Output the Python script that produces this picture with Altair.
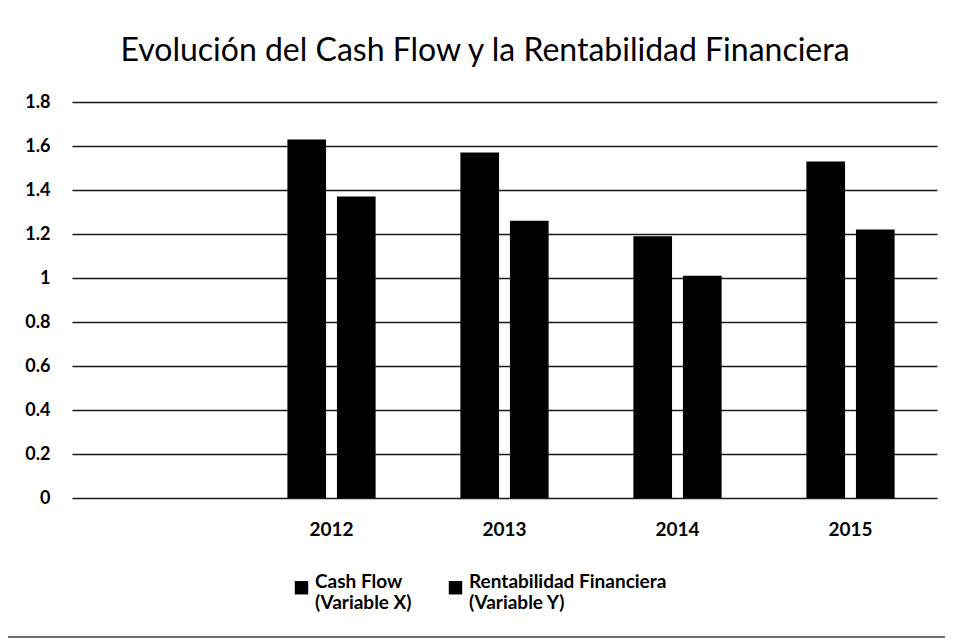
import altair as alt
import pandas as pd

title_text = ["Evolución del Cash Flow y la Rentabilidad Financiera"]
categories = ["", "2012", "2013", "2014", "2015"]
years = ["2012", "2013", "2014", "2015"]
cash_flow = [1.63, 1.57, 1.19, 1.53]
rentabilidad = [1.37, 1.26, 1.01, 1.22]
series = ["Cash Flow|(Variable X)", "Rentabilidad Financiera|(Variable Y)"]
y_ticks = [0, 0.2, 0.4, 0.6, 0.8, 1, 1.2, 1.4, 1.6, 1.8]

rows = []
for i, yr in enumerate(years):
    rows.append({"year": yr, "serie": series[0], "value": cash_flow[i]})
    rows.append({"year": yr, "serie": series[1], "value": rentabilidad[i]})
df = pd.DataFrame(rows)

FONT = "Lato"

bars = alt.Chart(df).mark_bar(color="black").encode(
    x=alt.X("year:N", sort=categories,
            scale=alt.Scale(domain=categories, paddingInner=0.49, paddingOuter=0.245),
            axis=alt.Axis(title=None, labelAngle=0, labelFontSize=19, labelFont=FONT,
                          labelFontWeight="bold", labelColor="black", labelPadding=22,
                          ticks=False, domain=False, grid=False)),
    xOffset=alt.XOffset("serie:N", sort=series, scale=alt.Scale(paddingInner=0.22)),
    y=alt.Y("value:Q", scale=alt.Scale(domain=[0, 1.8], nice=False),
            axis=alt.Axis(title=None, values=y_ticks, format="~g", labelFontSize=18,
                          labelFont=FONT, labelFontWeight="bold", labelColor="black",
                          labelPadding=22, ticks=False, domain=False, grid=True,
                          gridColor="black", gridWidth=1.6, gridOpacity=0.9)),
    color=alt.Color("serie:N", sort=series,
                    scale=alt.Scale(domain=series, range=["black", "black"]),
                    legend=alt.Legend(title=None, orient="none", legendX=220, legendY=476,
                                      direction="horizontal", symbolType="square",
                                      symbolSize=180, symbolStrokeWidth=0,
                                      labelFont=FONT, labelFontSize=19, labelFontWeight="bold",
                                      labelColor="black", labelBaseline="alphabetic",
                                      labelOffset=4, columnPadding=34,
                                      labelExpr="split(datum.label, '|')",
                                      labelLimit=300)),
)

title = alt.Chart(pd.DataFrame({"t": title_text})).mark_text(
    font=FONT, fontSize=32, color="black", align="center", baseline="alphabetic"
).encode(text="t:N", x=alt.value(413), y=alt.value(-41))

bottom_line = alt.Chart(pd.DataFrame({"k": [0]})).mark_rule(
    color="#444", strokeWidth=1.5).encode(
    x=alt.value(-72), x2=alt.value(874), y=alt.value(535))

chart = alt.layer(bars, title, bottom_line).properties(
    width=865, height=396,
    autosize=alt.AutoSizeParams(type="none"),
    padding={"left": 64, "top": 94, "right": 8, "bottom": 140},
).configure_view(stroke=None)

chart.save("out.html", embed_options={"renderer": "svg", "actions": False})
